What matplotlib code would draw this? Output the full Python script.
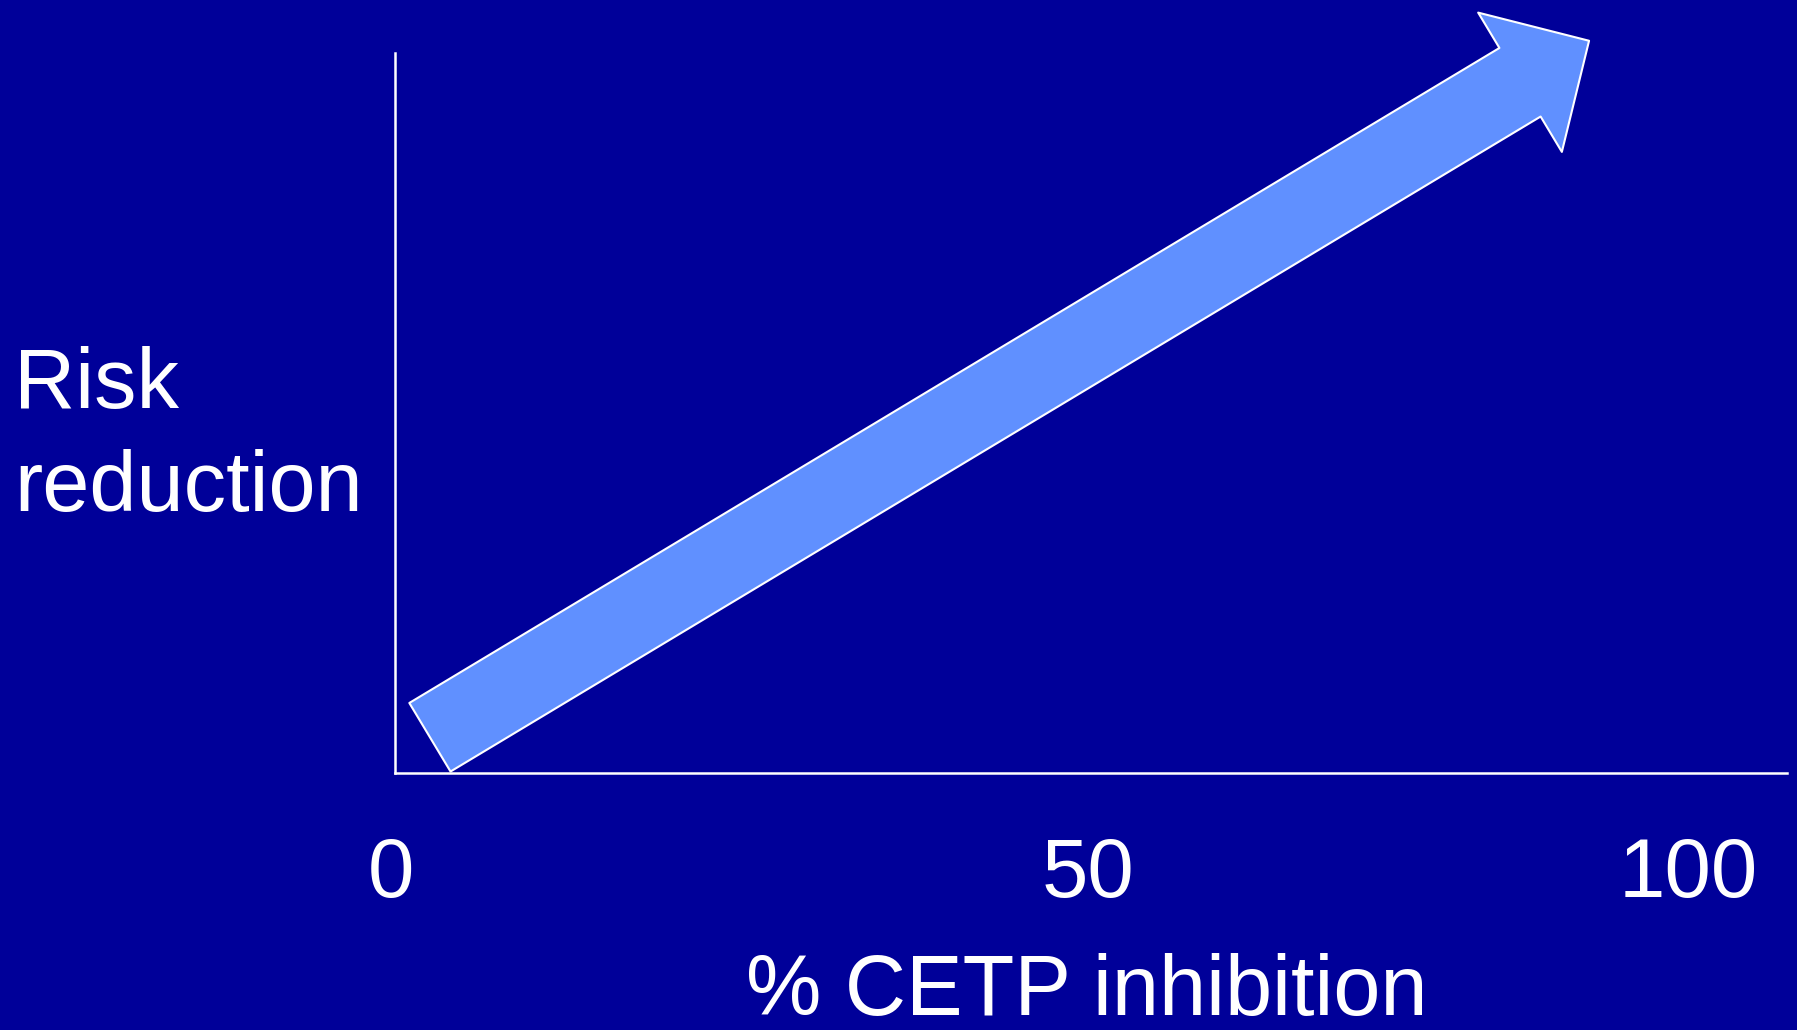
import matplotlib
matplotlib.use("Agg")
import matplotlib.pyplot as plt
from matplotlib.patches import FancyArrowPatch, ArrowStyle
from matplotlib.transforms import ScaledTranslation

# Données du graphique
tick_values = [0, 50, 100]
tick_labels = ["0", "50", "100"]
x_label = "% CETP inhibition"
y_label = "Risk\nreduction"
# Flèche de tendance : départ et arrivée (inhibition %, réduction du risque)
arrow_start = (2.7, 4.9)
arrow_end = (92.3, 101.7)

bg = "#000099"
arrow_color = "#6090FF"
plt.rcParams['font.family'] = ['Liberation Sans', 'DejaVu Sans']

W, H = 1797, 1030
fig = plt.figure(figsize=(W / 100, H / 100), dpi=100, facecolor=bg)
ax = fig.add_axes([395 / W, (H - 772.5) / H, (1787 - 395) / W, (772.5 - 53) / H])
ax.set_facecolor(bg)

ax.set_xlim(0.385, 107.6)
ax.set_ylim(0, 100)

for side in ["top", "right"]:
    ax.spines[side].set_visible(False)
for side in ["left", "bottom"]:
    ax.spines[side].set_color("white")
    ax.spines[side].set_linewidth(1.8)

ax.set_yticks([])
ax.set_xticks(tick_values)
ax.set_xticklabels(tick_labels, fontsize=60, color="white")
ax.tick_params(axis="x", length=0, pad=46)

# le "50" est décalé vers la droite sur la diapositive d'origine
lbl = ax.get_xticklabels()[1]
lbl.set_transform(lbl.get_transform() + ScaledTranslation(0.46, 0, fig.dpi_scale_trans))
lbl0 = ax.get_xticklabels()[0]
lbl0.set_transform(lbl0.get_transform() + ScaledTranslation(-0.04, 0, fig.dpi_scale_trans))

style = ArrowStyle.Simple(head_length=58, head_width=117, tail_width=57.6)
arrow = FancyArrowPatch(arrow_start, arrow_end, arrowstyle=style, mutation_scale=1,
                        facecolor=arrow_color, edgecolor="white", linewidth=1.5,
                        shrinkA=0, shrinkB=0, clip_on=False, zorder=3)
ax.add_patch(arrow)

fig.text(14 / W, (H - 511) / H, y_label, fontsize=61, color="white",
         ha="left", va="baseline", linespacing=1.375)
fig.text(1087 / W, (H - 1015) / H, x_label, fontsize=61, color="white",
         ha="center", va="baseline")

fig.savefig("out.png", dpi=100, facecolor=bg)
plt.close("all")
